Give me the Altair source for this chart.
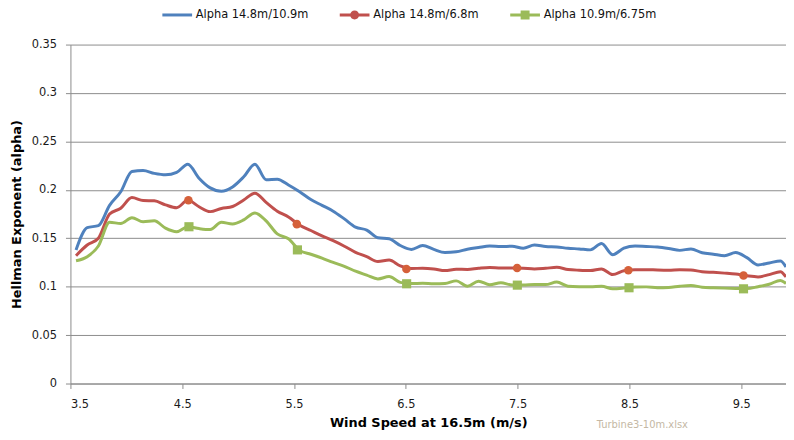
import altair as alt
import pandas as pd

# ---- data ----
series_names = ["Alpha 14.8m/10.9m", "Alpha 14.8m/6.8m", "Alpha 10.9m/6.75m"]
series_colors = ["#4F81BD", "#C0504D", "#9BBB59"]

wind = [3.55, 3.65, 3.75, 3.85, 3.95, 4.05, 4.15, 4.25, 4.35, 4.45,
        4.55, 4.65, 4.75, 4.85, 4.95, 5.05, 5.15, 5.25, 5.35, 5.45,
        5.55, 5.65, 5.75, 5.85, 5.95, 6.05, 6.15, 6.25, 6.35, 6.45,
        6.55, 6.65, 6.75, 6.85, 6.95, 7.05, 7.15, 7.25, 7.35, 7.45,
        7.55, 7.65, 7.75, 7.85, 7.95, 8.05, 8.15, 8.25, 8.35, 8.45,
        8.55, 8.65, 8.75, 8.85, 8.95, 9.05, 9.15, 9.25, 9.35, 9.45,
        9.55, 9.65, 9.75, 9.85, 9.9]

alpha_148_109 = [0.138, 0.161, 0.163, 0.184, 0.198, 0.219, 0.220, 0.217, 0.2155, 0.218,
                 0.2265, 0.212, 0.202, 0.1985, 0.203, 0.2135, 0.2265, 0.2105, 0.211, 0.205,
                 0.198, 0.190, 0.184, 0.178, 0.170, 0.1615, 0.1585, 0.1506, 0.1495, 0.1425,
                 0.1385, 0.1425, 0.1385, 0.1353, 0.136, 0.1387, 0.1405, 0.142, 0.1414, 0.1418,
                 0.1397, 0.143, 0.1415, 0.141, 0.1397, 0.139, 0.138, 0.1445, 0.133, 0.1397,
                 0.142, 0.1415, 0.141, 0.1395, 0.1375, 0.139, 0.135, 0.1335, 0.132, 0.1353,
                 0.130, 0.1225, 0.1245, 0.1265, 0.1203]

alpha_148_68 = [0.132, 0.143, 0.150, 0.175, 0.181, 0.192, 0.189, 0.1887, 0.1845, 0.1816,
                0.1892, 0.1825, 0.1775, 0.1808, 0.1828, 0.1895, 0.1965, 0.187, 0.178, 0.172,
                0.1635, 0.158, 0.1525, 0.1475, 0.1418, 0.1355, 0.131, 0.126, 0.1275, 0.1215,
                0.1188, 0.119, 0.1183, 0.1166, 0.118, 0.1178, 0.119, 0.1198, 0.1193, 0.1193,
                0.119, 0.1183, 0.119, 0.120, 0.1178, 0.117, 0.1166, 0.1183, 0.1125, 0.1165,
                0.1175, 0.1176, 0.1172, 0.117, 0.1176, 0.1172, 0.1155, 0.1148, 0.114, 0.113,
                0.1112, 0.1101, 0.1125, 0.1155, 0.110]

alpha_109_675 = [0.1268, 0.131, 0.142, 0.1665, 0.1653, 0.1712, 0.167, 0.168, 0.1605, 0.1568,
                 0.1619, 0.160, 0.159, 0.1665, 0.1648, 0.169, 0.1762, 0.168, 0.1545, 0.1495,
                 0.1375, 0.1335, 0.1295, 0.125, 0.121, 0.116, 0.112, 0.108, 0.1105, 0.1045,
                 0.1032, 0.1035, 0.103, 0.1033, 0.106, 0.1005, 0.1057, 0.102, 0.104, 0.1018,
                 0.1018, 0.1022, 0.1022, 0.1048, 0.1005, 0.100, 0.0999, 0.1005, 0.0978, 0.0985,
                 0.0997, 0.0998, 0.099, 0.0992, 0.1005, 0.1012, 0.0995, 0.0989, 0.0985, 0.0982,
                 0.098, 0.100, 0.1025, 0.1065, 0.1033]

marker_wind_red = [4.555, 5.525, 6.505, 7.495, 8.49, 9.52]
marker_red = [0.1892, 0.1646, 0.1183, 0.1193, 0.117, 0.1115]
marker_wind_green = [4.56, 5.53, 6.507, 7.497, 8.496, 9.52]
marker_green = [0.1619, 0.138, 0.103, 0.1016, 0.0989, 0.0978]

x_ticks = [3.5, 4.5, 5.5, 6.5, 7.5, 8.5, 9.5]
y_ticks = [0, 0.05, 0.1, 0.15, 0.2, 0.25, 0.3, 0.35]

# ---- tables ----
rows = []
for name, vals in zip(series_names, [alpha_148_109, alpha_148_68, alpha_109_675]):
    for w, v in zip(wind, vals):
        rows.append({"wind": w, "alpha": v, "series": name})
lines_df = pd.DataFrame(rows)
red_df = pd.DataFrame({"wind": marker_wind_red, "alpha": marker_red, "series": series_names[1]})
green_df = pd.DataFrame({"wind": marker_wind_green, "alpha": marker_green, "series": series_names[2]})
legend_df = pd.DataFrame({"wind": [5.0, 5.0, 5.0], "alpha": [-1.0, -1.0, -1.0], "series": series_names})
note_df = pd.DataFrame({"t": ["Turbine3-10m.xlsx"]})

FONT = "DejaVu Sans"
x_scale = alt.Scale(domain=[3.5, 9.9], nice=False, zero=False)
y_scale = alt.Scale(domain=[0, 0.35], nice=False)
color_scale = alt.Scale(domain=series_names, range=series_colors)

bar = "M-5,-0.3L1,-0.3L1,0.3L-5,0.3Z"
legend_shapes = [
    bar,
    bar + " M-2.9,0A0.9,0.9 0 1,1 -1.1,0A0.9,0.9 0 1,1 -2.9,0Z",
    bar + " M-2.9,-0.9L-1.1,-0.9L-1.1,0.9L-2.9,0.9Z",
]

x_enc = alt.X("wind:Q", scale=x_scale,
              axis=alt.Axis(values=x_ticks, format=".1f", title="Wind Speed at 16.5m (m/s)",
                            grid=False, tickSize=5, labelPadding=10, titlePadding=7))
y_enc = alt.Y("alpha:Q", scale=y_scale,
              axis=alt.Axis(values=y_ticks, format="~g", title="Hellman Exponent (alpha)",
                            grid=True, tickSize=5, labelPadding=9, titlePadding=8))

lines = alt.Chart(lines_df).mark_line(strokeWidth=3, interpolate="monotone").encode(
    x=x_enc, y=y_enc,
    color=alt.Color("series:N", scale=color_scale, legend=None),
    detail="series:N",
)

red_pts = alt.Chart(red_df).mark_point(filled=True, shape="circle", size=75, opacity=1,
                                        color="#D5603A").encode(x=x_enc, y=y_enc)
green_pts = alt.Chart(green_df).mark_point(filled=True, shape="square", size=85, opacity=1,
                                          color="#9BBB59").encode(x=x_enc, y=y_enc)

leg = dict(title=None, orient="none", direction="horizontal",
           legendX=112, legendY=-36, symbolSize=100,
           symbolStrokeWidth=0, symbolOpacity=1,
           labelFont=FONT, labelFontSize=11.5, labelColor="#111111", labelLimit=400,
           labelOffset=3, columnPadding=30, padding=0)

legend_layer = alt.Chart(legend_df).mark_point(filled=True, clip=True).encode(
    x=x_enc, y=y_enc,
    color=alt.Color("series:N", scale=color_scale, legend=alt.Legend(**leg)),
    shape=alt.Shape("series:N", scale=alt.Scale(domain=series_names, range=legend_shapes),
                    legend=alt.Legend(**leg)),
)

note = alt.Chart(note_df).mark_text(font=FONT, fontSize=10, color="#c4b8a4", align="center",
                                    baseline="middle").encode(
    x=alt.value(577), y=alt.value(384), text="t:N")

chart = alt.layer(lines, red_pts, green_pts, legend_layer, note).resolve_legend(
    color="independent", shape="independent"
).properties(
    width=722, height=342,
    autosize=alt.AutoSizeParams(type="none"),
    padding={"left": 63, "top": 35, "right": 0, "bottom": 47},
    background="white",
).configure_view(stroke=None).configure_axis(
    labelFont=FONT, labelFontSize=11.5, labelColor="#1a1a1a",
    titleFont=FONT, titleFontSize=13, titleFontWeight="bold", titleColor="#000000",
    domainColor="#8c8c8c", tickColor="#8c8c8c", gridColor="#8c8c8c",
    gridOpacity=1, domainWidth=1, gridWidth=1,
)

chart.save("out.html", embed_options={"renderer": "svg", "actions": False})
